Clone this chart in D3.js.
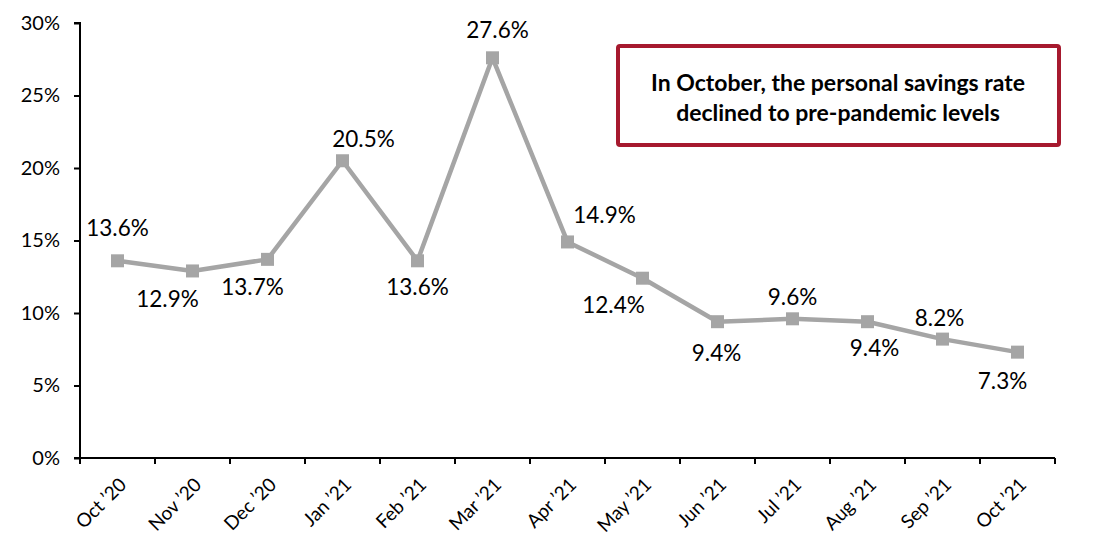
<!DOCTYPE html>
<html><head><meta charset="utf-8">
<script src="https://cdn.jsdelivr.net/npm/d3@7"></script>
<style>body{margin:0;background:#fff;font-family:Lato,"Open Sans",sans-serif;}</style>
</head><body><svg id="c" width="1093" height="560"></svg>
<script>
const categories = ["Oct \u201920","Nov \u201920","Dec \u201920","Jan \u201921","Feb \u201921","Mar \u201921","Apr \u201921","May \u201921","Jun \u201921","Jul \u201921","Aug \u201921","Sep \u201921","Oct \u201921"];
const savingsRate = [13.6,12.9,13.7,20.5,13.6,27.6,14.9,12.4,9.4,9.6,9.4,8.2,7.3];
const yTicks = [0,5,10,15,20,25,30];
const note = ["In October, the personal savings rate","declined to pre-pandemic levels"];
// label offsets [dx, dy] relative to point
const labelOffsets = [[0,-33],[-25,28],[-15,28],[21,-22],[0,26],[5,-28],[37,-27],[-29,27],[-1,31],[0,-22],[7,26],[-3,-21],[-15,29]];

const svg = d3.select("#c");
const m = {l:80, r:1055, t:23, b:458};
const x = d3.scaleBand().domain(categories).range([m.l, m.r]);
const y = d3.scaleLinear().domain([0,30]).range([m.b, m.t]);

const yAxis = svg.append("g").attr("transform",`translate(${m.l},0)`)
  .call(d3.axisLeft(y).tickValues(yTicks).tickSize(6).tickPadding(14).tickFormat(d=>d+"%"));
const xAxis = svg.append("g").attr("transform",`translate(0,${m.b})`)
  .call(d3.axisBottom(x).tickSize(0).tickPadding(0));
const bounds = categories.map(c=>x(c)).concat([m.r]);
xAxis.selectAll(".bt").data(bounds).enter().append("line")
  .attr("x1",d=>d).attr("x2",d=>d).attr("y1",0).attr("y2",6).attr("stroke","#000").attr("stroke-width",2);
[yAxis,xAxis].forEach(a=>{
  a.select(".domain").attr("stroke","#000").attr("stroke-width",2);
  a.selectAll(".tick line").attr("stroke","#000").attr("stroke-width",2);
  a.selectAll("text").attr("font-family","Lato, 'Open Sans', sans-serif").attr("font-size",19).attr("fill","#000");
});
yAxis.selectAll("text").attr("font-size",20);
yAxis.select(".domain").attr("d",`M-6,${m.t}H0V${m.b}H-6`);
xAxis.select(".domain").attr("d",`M${m.l},0H${m.r}`);
xAxis.selectAll(".tick text")
  .attr("text-anchor","end").attr("dy",0)
  .attr("transform","translate(10,28) rotate(-45)");

const cx = d => x(d) + x.bandwidth()/2;
const line = d3.line().x((d,i)=>cx(categories[i])).y(d=>y(d));
svg.append("path").datum(savingsRate).attr("d",line)
  .attr("fill","none").attr("stroke","#A5A5A5").attr("stroke-width",4.5).attr("stroke-linejoin","round");
const s = 13;
svg.selectAll(".mk").data(savingsRate).enter().append("rect")
  .attr("x",(d,i)=>cx(categories[i])-s/2).attr("y",d=>y(d)-s/2)
  .attr("width",s).attr("height",s).attr("fill","#A5A5A5");
svg.selectAll(".lb").data(savingsRate).enter().append("text")
  .attr("x",(d,i)=>cx(categories[i])+labelOffsets[i][0])
  .attr("y",(d,i)=>y(d)+labelOffsets[i][1])
  .attr("dy","0.35em").attr("text-anchor","middle")
  .attr("font-size",22.5).attr("fill","#000")
  .text(d=>d.toFixed(1)+"%");

svg.append("rect").attr("x",618).attr("y",46).attr("width",441).attr("height",99).attr("rx",2)
  .attr("fill","#fff").attr("stroke","#A6192E").attr("stroke-width",4);
svg.selectAll(".nt").data(note).enter().append("text")
  .attr("x",838).attr("y",(d,i)=>83+i*30).attr("dy","0.35em").attr("text-anchor","middle")
  .attr("font-size",23).attr("font-weight","bold").attr("fill","#000").text(d=>d);
</script></body></html>
